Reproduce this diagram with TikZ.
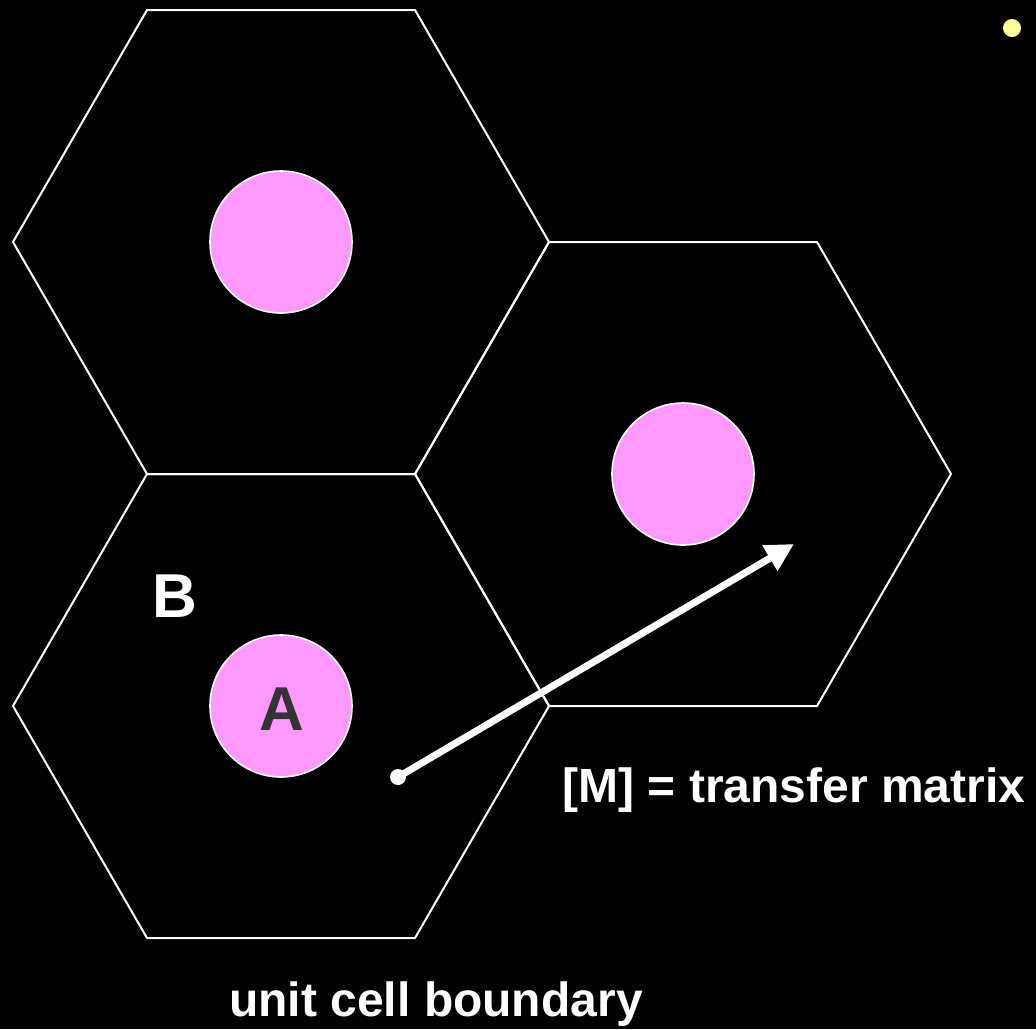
\documentclass[tikz,border=0pt]{standalone}
\usepackage{fontspec}
\setmainfont{Liberation Sans}
\usetikzlibrary{arrows.meta}
\definecolor{atompink}{HTML}{FF99FF}
\definecolor{labelgray}{HTML}{333333}
\definecolor{sunyellow}{HTML}{FFFF99}
\tikzset{
  cellhex/.style={draw=white, line width=2pt, line join=miter},
  atom/.style={circle, fill=atompink, draw=white, line width=1.6pt,
    minimum size=142pt, inner sep=0pt},
  bigtext/.style={text=white, font=\bfseries\fontsize{48}{56}\selectfont, anchor=base, inner sep=0pt},
  letter/.style={font=\bfseries\fontsize{62}{70}\selectfont, anchor=base, inner sep=0pt},
}
\newcommand{\unitcell}[1]{%
  \draw[cellhex] (#1) ++(-134,-232) -- ++(268,0) -- ++(134,232)
    -- ++(-134,232) -- ++(-268,0) -- ++(-134,-232) -- cycle;}
\begin{document}
\begin{tikzpicture}[x=1pt, y=-1pt]
  \fill[black] (0,0) rectangle (1036,1029);
  \useasboundingbox (0,0) rectangle (1036,1029);

  % cell centres
  \coordinate (c1) at (281,242);
  \coordinate (c2) at (281,706);
  \coordinate (c3) at (683,474);

  \unitcell{c1}
  \unitcell{c2}
  \unitcell{c3}

  % atoms
  \node[atom] (atom1) at (c1) {};
  \node[atom] (atom2) at (c2) {};
  \node[atom] (atom3) at (c3) {};
  \node[letter, text=labelgray] (labA) at (282,730) {A};
  \node[letter, text=white] (labB) at (175,617) {B};

  % translation vector
  \node[circle, fill=white, minimum size=16pt, inner sep=0pt] (start) at (398,777) {};
  \coordinate (tip) at (794,544);
  \draw[white, line width=7pt, -{Triangle[length=28pt, width=28pt]}] (start.center) -- (tip);

  \node[bigtext] (mlabel) at (794,802) {[M] = transfer matrix};
  \node[bigtext] (ulabel) at (436,1016) {unit cell boundary};

  % corner marker
  \node[circle, fill=sunyellow, minimum size=18pt, inner sep=0pt] (dot) at (1012,28) {};
\end{tikzpicture}
\end{document}
